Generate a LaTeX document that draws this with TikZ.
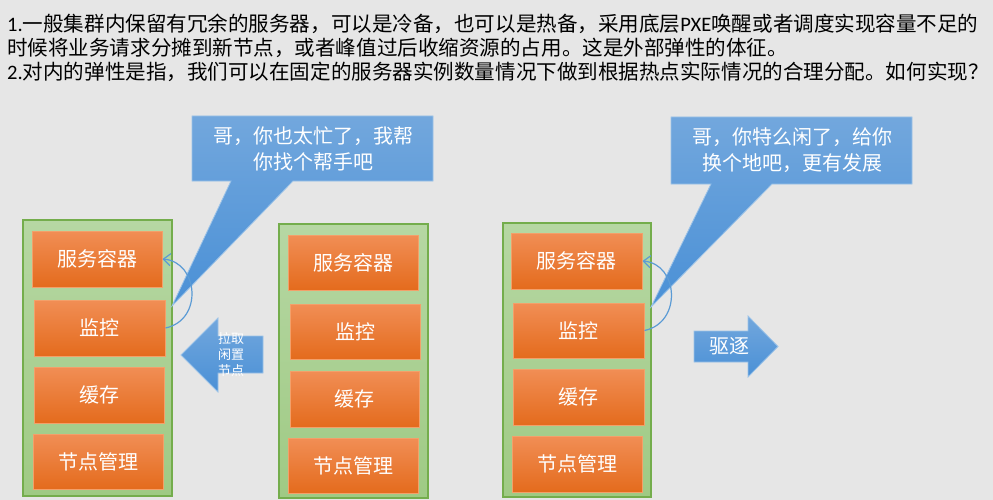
\documentclass[tikz,border=0pt]{standalone}
\usepackage{fontspec}
\setmainfont{Noto Sans CJK SC}
\newfontfamily\lat{Carlito}
\usetikzlibrary{arrows.meta}
\definecolor{bg}{HTML}{E6E6E6}
\definecolor{gtop}{HTML}{B6D7A3}
\definecolor{gbot}{HTML}{9FCA84}
\definecolor{gline}{HTML}{74AD4C}
\definecolor{otop}{HTML}{F18E55}
\definecolor{omid}{HTML}{F47B2B}
\definecolor{obot}{HTML}{E46B1D}
\definecolor{oline}{HTML}{F3A06A}
\definecolor{btop}{HTML}{72A7DD}
\definecolor{bbot}{HTML}{4A90D6}
\definecolor{bline}{HTML}{9CC3E8}
\definecolor{carc}{HTML}{5B9BD5}
\tikzset{
  hdr/.style={anchor=west, inner sep=0pt, font=\fontsize{20.55}{24}\selectfont},
  gbox/.style={rectangle, top color=gtop, bottom color=gbot, draw=gline, line width=1.5pt, inner sep=0pt},
  obox/.style={rectangle, top color=otop, middle color=omid, bottom color=obot, draw=oline, line width=1pt, text=white, inner sep=0pt, font=\fontsize{20}{24}\selectfont},
  bshape/.style={top color=btop, bottom color=bbot, draw=bline, line width=0.8pt},
  btext/.style={text=white, align=center, inner sep=0pt, font=\fontsize{20}{26}\selectfont},
  carrow/.style={draw=carc, line width=1.2pt, -{Straight Barb[length=7pt,width=12pt]}}
}
\begin{document}
\begin{tikzpicture}[x=1pt,y=-1pt]
\useasboundingbox (0,0) rectangle (993,500);
\fill[bg] (0,0) rectangle (993,500);

% header
\node[hdr] (h1) at (7,24) {{\lat 1.}一般集群内保留有冗余的服务器，可以是冷备，也可以是热备，采用底层{\lat PXE}唤醒或者调度实现容量不足的};
\node[hdr] (h2) at (7,48) {时候将业务请求分摊到新节点，或者峰值过后收缩资源的占用。这是外部弹性的体征。};
\node[hdr] (h3) at (7,72) {{\lat 2.}对内的弹性是指，我们可以在固定的服务器实例数量情况下做到根据热点实际情况的合理分配。如何实现？};

% left column
\node[gbox, minimum width=149pt, minimum height=276pt] (g1) at (97.5,358) {};
\node[obox, minimum width=130pt, minimum height=56pt] (s1) at (97,259) {服务容器};
\node[obox, minimum width=131pt, minimum height=56pt] (m1) at (99.5,328) {监控};
\node[obox, minimum width=130pt, minimum height=56pt] (c1) at (99,395) {缓存};
\node[obox, minimum width=130pt, minimum height=55pt] (n1) at (98,461.5) {节点管理};

% middle column
\node[gbox, minimum width=149pt, minimum height=274pt] (g2) at (353.5,361) {};
\node[obox, minimum width=130pt, minimum height=55pt] (s2) at (353,262.5) {服务容器};
\node[obox, minimum width=130pt, minimum height=55pt] (m2) at (355,331.5) {监控};
\node[obox, minimum width=129pt, minimum height=56pt] (c2) at (354.5,399) {缓存};
\node[obox, minimum width=130pt, minimum height=55pt] (n2) at (353,465.5) {节点管理};

% right column
\node[gbox, minimum width=148pt, minimum height=274pt] (g3) at (577,360) {};
\node[obox, minimum width=131pt, minimum height=56pt] (s3) at (576.5,261) {服务容器};
\node[obox, minimum width=131pt, minimum height=55pt] (m3) at (578.5,330.5) {监控};
\node[obox, minimum width=131pt, minimum height=56pt] (c3) at (578.5,397) {缓存};
\node[obox, minimum width=130pt, minimum height=56pt] (n3) at (577,464) {节点管理};

% callout 1
\shade[bshape] (192,116) -- (433,116) -- (433,181) -- (293,181) -- (172,306) -- (231,181) -- (192,181) -- cycle;
\node[btext] (t1) at (313,149) {哥，你也太忙了，我帮\\你找个帮手吧};

% callout 2
\shade[bshape] (671,117) -- (912,117) -- (912,184) -- (772,184) -- (651,307) -- (711,184) -- (671,184) -- cycle;
\node[btext] (t2) at (792,150.5) {哥，你特么闲了，给你\\换个地吧，更有发展};

% curved arrows
\draw[carrow] (m1.east) .. controls +(38,-8) and +(36,3) .. (s1.east);
\draw[carrow] (m3.east) .. controls +(38,-8) and +(36,3) .. (s3.east);

% pull arrow
\shade[bshape] (181,355) -- (218,318) -- (218,336) -- (263,336) -- (263,373) -- (218,373) -- (218,392) -- cycle;
\node[text=white, align=left, inner sep=0pt, anchor=west, font=\fontsize{13}{16}\selectfont] (pl) at (218,355) {拉取\\闲置\\节点};

% evict arrow
\shade[bshape] (694,331) -- (748,331) -- (748,316) -- (778,346.5) -- (748,377) -- (748,362) -- (694,362) -- cycle;
\node[text=white, inner sep=0pt, font=\fontsize{20}{24}\selectfont] (ev) at (729,346) {驱逐};
\end{tikzpicture}
\end{document}
